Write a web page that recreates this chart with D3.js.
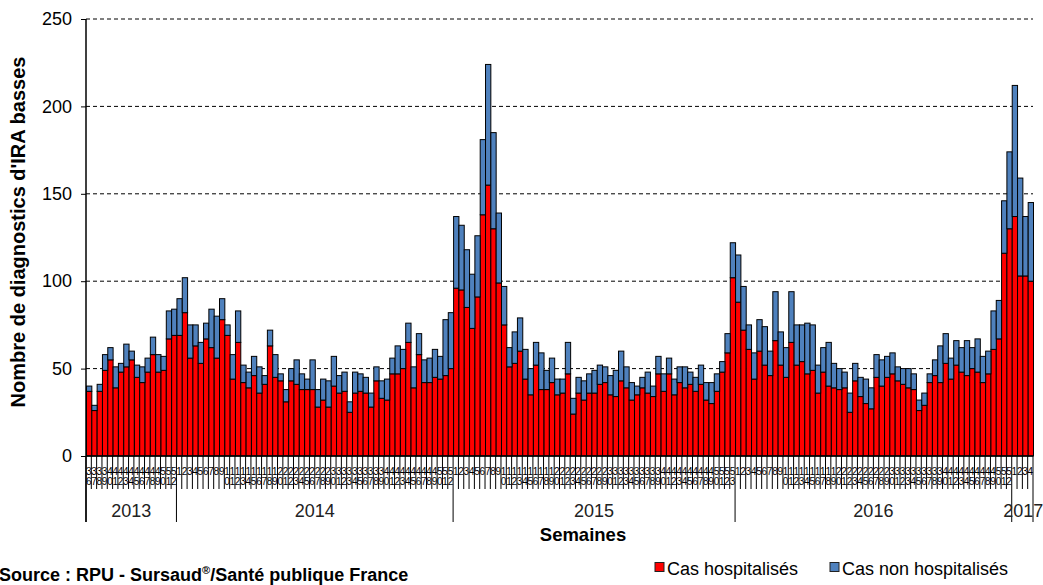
<!DOCTYPE html>
<html>
<head>
<meta charset="utf-8">
<script src="https://cdn.jsdelivr.net/npm/d3@7"></script>
<style>
  html, body { margin: 0; padding: 0; background: #fff; }
  svg { display: block; font-family: "Liberation Sans", Arial, sans-serif; }
</style>
</head>
<body>
<svg id="chart" width="1043" height="585"></svg>
<script>
// ---- Data ----
const years = ["2013", "2014", "2015", "2016", "2017"];
const weekFirst = [36, 1, 1, 1, 1];
const weekLast = [52, 52, 53, 52, 4];

const hospitalises = [
  // 2013 (S36-S52)
  37,26,37,49,55,39,48,51,55,45,42,48,58,48,49,67,69,
  // 2014
  69,82,56,63,53,67,62,56,78,69, 44,65,42,39,46,36,41,63,45,43,
  31,43,41,38,38,38,28,32,28,40, 36,37,25,36,37,36,28,43,33,32,
  47,47,50,65,39,58,42,42,45,44, 46,50,
  // 2015
  96,95,85,73,91,138,155,130,99,75, 51,53,60,44,35,52,38,38,42,35,
  36,47,24,36,32,36,36,41,42,35, 34,43,39,32,35,39,36,34,47,37,
  47,35,42,39,41,37,41,32,30,37, 48,59,102,
  // 2016
  88,72,61,44,60,52,46,66,52,45, 65,52,54,47,49,36,48,40,39,38,
  39,25,43,34,30,27,45,40,45,47, 43,41,39,38,26,29,42,46,42,53,
  44,52,48,46,50,48,42,47,61,67, 116,130,
  // 2017
  137,103,103,100
];
const nonHospitalises = [
  // 2013
  3,3,4,9,7,12,5,13,5,7,9,8,10,10,8,16,15,
  // 2014
  21,20,19,12,12,9,22,24,12,6, 14,18,10,9,11,15,5,9,13,4,
  7,7,14,9,6,17,10,12,15,17, 10,11,6,12,10,9,8,8,10,12,
  9,16,11,11,12,12,13,14,16,13, 32,32,
  // 2015
  41,37,33,31,35,43,69,55,40,22, 11,18,19,17,15,13,21,11,14,9,
  8,18,9,9,11,11,13,11,9,11, 15,17,12,10,5,6,12,6,10,10,
  9,9,9,12,7,8,11,10,12,10, 6,11,20,
  // 2016
  27,25,14,15,18,22,14,28,19,17, 29,23,21,29,26,16,14,25,14,12,
  9,11,10,11,14,12,13,15,12,12, 8,9,11,9,6,7,5,9,21,17,
  12,14,14,20,12,19,15,13,22,22, 30,44,
  // 2017
  75,56,34,45
];
const yTicks = [0, 50, 100, 150, 200, 250];
const seriesNames = ["Cas hospitalisés", "Cas non hospitalisés"];
const seriesColors = ["#FF0000", "#4F81BD"];

// categories (year, week)
const categories = [];
years.forEach((yr, i) => {
  for (let w = weekFirst[i]; w <= weekLast[i]; w++) categories.push({ year: yr, week: String(w) });
});

// ---- Layout ----
const svg = d3.select("#chart");
const plotL = 86, plotR = 1033, plotT = 19, plotB = 456;

const x = d3.scaleBand().domain(d3.range(categories.length)).range([plotL, plotR]).padding(0);
const y = d3.scaleLinear().domain([0, 250]).range([plotB, plotT]);

// gridlines
svg.append("g").selectAll("line")
  .data(yTicks.filter(d => d > 0))
  .join("line")
  .attr("x1", plotL).attr("x2", plotR)
  .attr("y1", d => y(d)).attr("y2", d => y(d))
  .attr("stroke", "#000").attr("stroke-width", 1)
  .attr("stroke-dasharray", "4,3");

// stacked bars
const stackData = categories.map((c, i) => ({ i, h: hospitalises[i], n: nonHospitalises[i] }));
const stack = d3.stack().keys(["h", "n"])(stackData);
const gBars = svg.append("g");
stack.forEach((layer, k) => {
  gBars.append("g").selectAll("rect")
    .data(layer)
    .join("rect")
    .attr("x", d => x(d.data.i) + 0.5)
    .attr("width", x.bandwidth())
    .attr("y", d => y(d[1]))
    .attr("height", d => y(d[0]) - y(d[1]))
    .attr("fill", seriesColors[k])
    .attr("stroke", "#000")
    .attr("stroke-width", 1);
});

// y axis
const yAxis = d3.axisLeft(y).tickValues(yTicks).tickSize(5).tickPadding(9);
const gy = svg.append("g").attr("transform", `translate(${plotL},0)`).call(yAxis);
gy.select(".domain").remove();
gy.selectAll(".tick line").attr("stroke", "#000");
gy.selectAll(".tick text").attr("font-size", 18).attr("fill", "#000")
  .attr("font-family", "Liberation Sans, Arial, sans-serif");
svg.append("line").attr("x1", plotL).attr("x2", plotL).attr("y1", plotT).attr("y2", 522)
  .attr("stroke", "#000").attr("stroke-width", 1.5);

// x axis line
svg.append("line").attr("x1", plotL).attr("x2", plotR).attr("y1", plotB).attr("y2", plotB)
  .attr("stroke", "#000").attr("stroke-width", 1.5);

// week separators
const gSep = svg.append("g");
gSep.selectAll("line")
  .data(d3.range(categories.length + 1))
  .join("line")
  .attr("x1", i => i < categories.length ? x(i) : plotR)
  .attr("x2", i => i < categories.length ? x(i) : plotR)
  .attr("y1", plotB)
  .attr("y2", i => {
    if (i === 0 || i === categories.length) return 522;
    return categories[i].year !== categories[i - 1].year ? 522 : 489;
  })
  .attr("stroke", "#000").attr("stroke-width", 1);

// week labels (stacked characters)
const gWk = svg.append("g").attr("font-size", 10).attr("fill", "#000");
categories.forEach((c, i) => {
  const t = gWk.append("text").attr("text-anchor", "middle");
  c.week.split("").forEach((ch, j) => {
    t.append("tspan").attr("x", x(i) + x.bandwidth() / 2).attr("y", 475 + j * 10).text(ch);
  });
});

// year labels
years.forEach(yr => {
  const idx = categories.map((c, i) => c.year === yr ? i : -1).filter(i => i >= 0);
  const x0 = x(idx[0]), x1 = x(idx[idx.length - 1]) + x.bandwidth();
  svg.append("text").attr("x", (x0 + x1) / 2 + (yr === "2017" ? 1 : 0)).attr("y", 517)
    .attr("text-anchor", "middle").attr("font-size", 18).attr("fill", "#222").text(yr);
});

// axis titles
svg.append("text").attr("x", 583).attr("y", 541).attr("text-anchor", "middle")
  .attr("font-size", 18.5).attr("font-weight", "bold").text("Semaines");
svg.append("text").attr("transform", "translate(25,232) rotate(-90)")
  .attr("text-anchor", "middle").attr("font-size", 20).attr("font-weight", "bold")
  .text("Nombre de diagnostics d'IRA basses");

// legend
const legX = [655, 830];
seriesNames.forEach((name, k) => {
  svg.append("rect").attr("x", legX[k]).attr("y", 562.5).attr("width", 9).attr("height", 9)
    .attr("fill", seriesColors[k]).attr("stroke", "#222").attr("stroke-width", 1);
  svg.append("text").attr("x", legX[k] + 12).attr("y", 574.5).attr("font-size", 18)
    .attr("fill", "#000").text(name);
});

// source
const src = svg.append("text").attr("x", -1).attr("y", 581).attr("font-size", 18)
  .attr("font-weight", "bold").attr("fill", "#000");
src.append("tspan").text("Source : RPU  - Sursaud");
src.append("tspan").attr("font-size", 11).attr("dy", -7).text("®");
src.append("tspan").attr("dy", 7).text("/Santé publique France");
</script>
</body>
</html>
